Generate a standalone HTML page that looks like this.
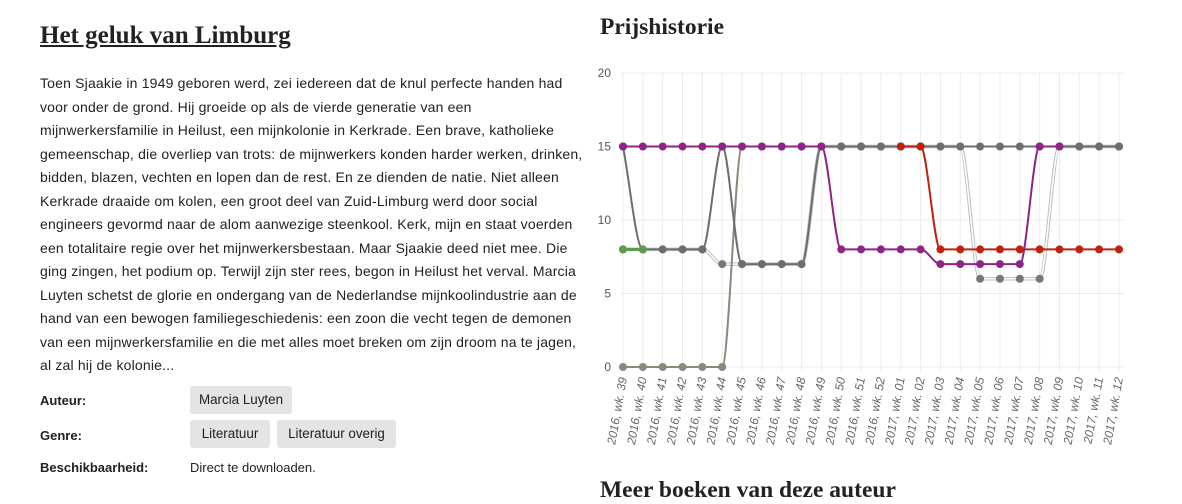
<!DOCTYPE html>
<html><head><meta charset="utf-8"><style>
body{margin:0;width:1182px;height:484px;overflow:hidden;background:#fff;font-family:"Liberation Sans",sans-serif;color:#222;position:relative}
.t{position:absolute;left:40px;font-size:14px;letter-spacing:0.18px;white-space:nowrap;color:#222}
h1{position:absolute;margin:0;font-family:"Liberation Serif",serif;font-weight:bold}
.lab{position:absolute;left:40px;font-size:13px;font-weight:bold}
.tag{position:absolute;background:#e4e4e4;border-radius:3px;font-size:13.4px;padding:0;height:28px;line-height:28px;text-align:center}
</style></head><body>
<h1 style="left:40px;top:22px;font-size:25px;text-decoration:underline">Het geluk van Limburg</h1>
<div>
<div class="t" style="top:75px">Toen Sjaakie in 1949 geboren werd, zei iedereen dat de knul perfecte handen had</div>
<div class="t" style="top:98.5px">voor onder de grond. Hij groeide op als de vierde generatie van een</div>
<div class="t" style="top:122px">mijnwerkersfamilie in Heilust, een mijnkolonie in Kerkrade. Een brave, katholieke</div>
<div class="t" style="top:145.5px">gemeenschap, die overliep van trots: de mijnwerkers konden harder werken, drinken,</div>
<div class="t" style="top:169px">bidden, blazen, vechten en lopen dan de rest. En ze dienden de natie. Niet alleen</div>
<div class="t" style="top:192.5px">Kerkrade draaide om kolen, een groot deel van Zuid-Limburg werd door social</div>
<div class="t" style="top:216px">engineers gevormd naar de alom aanwezige steenkool. Kerk, mijn en staat voerden</div>
<div class="t" style="top:239.5px">een totalitaire regie over het mijnwerkersbestaan. Maar Sjaakie deed niet mee. Die</div>
<div class="t" style="top:263px">ging zingen, het podium op. Terwijl zijn ster rees, begon in Heilust het verval. Marcia</div>
<div class="t" style="top:286.5px">Luyten schetst de glorie en ondergang van de Nederlandse mijnkoolindustrie aan de</div>
<div class="t" style="top:310px">hand van een bewogen familiegeschiedenis: een zoon die vecht tegen de demonen</div>
<div class="t" style="top:333.5px">van een mijnwerkersfamilie en die met alles moet breken om zijn droom na te jagen,</div>
<div class="t" style="top:357px">al zal hij de kolonie...</div>
</div>
<div class="lab" style="top:393px">Auteur:</div>
<div class="tag" style="left:190px;top:386px;width:102px">Marcia Luyten</div>
<div class="lab" style="top:428px">Genre:</div>
<div class="tag" style="left:190px;top:420px;width:80px">Literatuur</div>
<div class="tag" style="left:277px;top:420px;width:119px">Literatuur overig</div>
<div class="lab" style="top:460px">Beschikbaarheid:</div>
<div class="t" style="left:190px;top:460px;font-size:13px;letter-spacing:0">Direct te downloaden.</div>
<h1 style="left:600px;top:14px;font-size:23.5px">Prijshistorie</h1>
<h1 style="left:600px;top:477px;font-size:23.5px">Meer boeken van deze auteur</h1>
<svg id="c" width="1182" height="484" style="position:absolute;left:0;top:0"></svg>
<script>
const categories=[];for(let w=39;w<=52;w++)categories.push("2016, wk. "+w);for(let w=1;w<=12;w++)categories.push("2017, wk. "+(w<10?"0"+w:w));
const yTicks=[0,5,10,15,20];
const N=null;
const purple=[15,15,15,15,15,15,15,15,15,15,15,8,8,8,8,8,7,7,7,7,7,15,15,N,N,N];
const red=[N,N,N,N,N,N,N,N,N,N,N,N,N,N,15,15,8,8,8,8,8,8,8,8,8,8];
const darkgrey=[15,8,8,8,8,15,7,7,7,7,15,15,15,15,15,15,15,15,15,15,15,15,15,15,15,15];
const khaki=[0,0,0,0,0,0,15,15,15,15,15,N,N,N,N,N,N,N,N,N,N,N,N,N,N,N];
const ghost=[8,8,8,8,8,7,7,7,7,7,15,15,15,15,15,15,15,15,6,6,6,6,15,15,15,15];
const green=[8,8,N,N,N,N,N,N,N,N,N,N,N,N,N,N,N,N,N,N,N,N,N,N,N,N];
const x0=623,x1=1119,yb=367,yt=73;
const X=i=>x0+(x1-x0)*i/(categories.length-1);
const Y=v=>yb-(yb-yt)*v/20;
const svg=document.getElementById('c');const NS="http://www.w3.org/2000/svg";
function el(t,a){const e=document.createElementNS(NS,t);for(const k in a)e.setAttribute(k,a[k]);svg.appendChild(e);return e;}
yTicks.forEach(v=>{const g=el('line',{x1:x0-3,x2:x1+5,y1:Y(v),y2:Y(v),stroke:'#ececec'});


const t=el('text',{x:x0-12,y:Y(v)+4,'text-anchor':'end','font-size':'12',fill:'#555'});t.textContent=v;

});
categories.forEach((c,i)=>{const g=el('line',{x1:X(i),x2:X(i),y1:yt,y2:yb+4,stroke:'#ececec'});


const t=el('text',{x:0,y:0,'text-anchor':'end','font-size':'12',fill:'#666','font-style':'italic',transform:`translate(${X(i)+4},378) rotate(-80)`});t.textContent=c;

});
function mono(p){const n=p.length;if(n<2)return `M${p[0][0]},${p[0][1]}`;
const d=[],m=[];for(let i=0;i<n-1;i++)d.push((p[i+1][1]-p[i][1])/(p[i+1][0]-p[i][0]));
for(let i=0;i<n;i++){if(i===0)m.push(d[0]);else if(i===n-1)m.push(d[n-2]);else m.push(d[i-1]*d[i]<=0?0:(d[i-1]+d[i])/2);}
for(let i=0;i<n-1;i++){if(d[i]===0){m[i]=0;m[i+1]=0;continue;}const a=m[i]/d[i],b=m[i+1]/d[i],s=a*a+b*b;if(s>9){const t=3/Math.sqrt(s);m[i]=t*a*d[i];m[i+1]=t*b*d[i];}}
let s=`M${p[0][0]},${p[0][1]}`;for(let i=0;i<n-1;i++){const h=(p[i+1][0]-p[i][0])/3;s+=` C${p[i][0]+h},${p[i][1]+m[i]*h} ${p[i+1][0]-h},${p[i+1][1]-m[i+1]*h} ${p[i+1][0]},${p[i+1][1]}`;}return s;}
function path(d){let segs=[],cur=[];d.forEach((v,i)=>{if(v===null){if(cur.length)segs.push(cur);cur=[];}else cur.push([X(i),Y(v)]);});if(cur.length)segs.push(cur);
return segs.map(mono).join(' ');}
function series(d,col,name,w,ghostStyle){
if(ghostStyle){const b=el('path',{d:path(d),fill:'none',stroke:'#b8c0c4',"stroke-width":3.5});
const f=el('path',{d:path(d),fill:'none',stroke:'#fff',"stroke-width":1.5});}
else{const p=el('path',{d:path(d),fill:'none',stroke:col,"stroke-width":w});}
d.forEach((v,i)=>{if(v===null)return;const c=el('circle',{cx:X(i),cy:Y(v),r:4,fill:ghostStyle?'#777':col});

});}
series(ghost,'#777','series-grey-outline',2,true);
series(khaki,'#8a8a7c','series-khaki',2);
series(darkgrey,'#6e6e6e','series-grey',2);
series(green,'#5c9a4c','series-green',3);
series(red,'#c0220e','series-red',2);
series(purple,'#8e2585','series-purple',2);
</script>
</body></html>
